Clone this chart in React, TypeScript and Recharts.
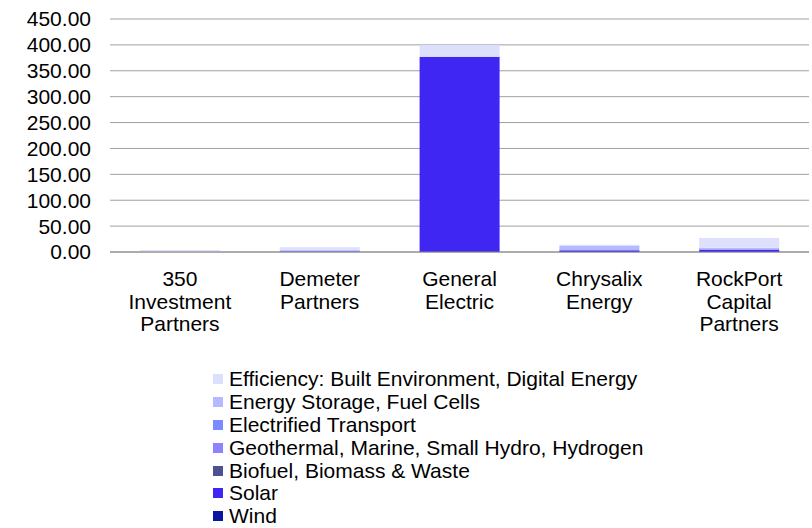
import React from "react";
import { BarChart, Bar, XAxis, YAxis, CartesianGrid, Legend } from "recharts";

const FONT = "'Liberation Sans', Arial, sans-serif";

const investors = [
  "350 Investment Partners",
  "Demeter Partners",
  "General Electric",
  "Chrysalix Energy",
  "RockPort Capital Partners",
];
const investorLines = [
  ["350", "Investment", "Partners"],
  ["Demeter", "Partners"],
  ["General", "Electric"],
  ["Chrysalix", "Energy"],
  ["RockPort", "Capital", "Partners"],
];

// stacking order: bottom -> top
const sectors = [
  "Wind",
  "Solar",
  "Biofuel, Biomass & Waste",
  "Geothermal, Marine, Small Hydro, Hydrogen",
  "Electrified Transport",
  "Energy Storage, Fuel Cells",
  "Efficiency: Built Environment, Digital Energy",
];
const sectorColors = ["#0b159e", "#3f26f3", "#4b5193", "#8c84ff", "#7b8bff", "#b3baff", "#dde0fc"];

const wind = [0, 0, 0, 0, 0];
const solar = [0, 0, 377, 3.5, 5];
const biofuel = [0, 0, 0, 0, 0];
const geothermal = [0, 2.5, 0, 0, 0];
const electrified = [0, 0, 0, 0, 0];
const storage = [1, 2, 0, 8, 3];
const efficiency = [3, 4.5, 23, 2.5, 19];

const yTicks = [0, 50, 100, 150, 200, 250, 300, 350, 400, 450];

const seriesValues = [wind, solar, biofuel, geothermal, electrified, storage, efficiency];
const keys = ["s0", "s1", "s2", "s3", "s4", "s5", "s6"];

const data = investors.map((name, i) => {
  const row: any = { name };
  keys.forEach((k, j) => {
    row[k] = seriesValues[j][i];
  });
  return row;
});

const InvestorTick = (props: any) => {
  const { x, y, payload } = props;
  const lines = investorLines[payload.index] || [payload.value];
  return (
    <text x={x} y={y} textAnchor="middle" fill="#000" fontSize={21} fontFamily={FONT}>
      {lines.map((l: string, i: number) => (
        <tspan key={i} x={x} y={y + 34 + i * 22.6}>
          {l}
        </tspan>
      ))}
    </text>
  );
};

const SectorLegend = () => (
  <div style={{ fontFamily: FONT, fontSize: 21, color: "#000" }}>
    {sectors
      .map((s, i) => ({ s, c: sectorColors[i] }))
      .reverse()
      .map(({ s, c }) => (
        <div key={s} style={{ display: "flex", alignItems: "center", height: 22.8, whiteSpace: "nowrap" }}>
          <span style={{ display: "inline-block", width: 10, height: 10, background: c, marginRight: 6 }} />
          <span>{s}</span>
        </div>
      ))}
  </div>
);

export default function App() {
  return (
    <div style={{ position: "absolute", left: 0, top: 0, width: 812, height: 528, background: "#fff" }}>
      <BarChart
        width={812}
        height={528}
        data={data}
        margin={{ top: 19, right: 3, bottom: 176, left: 0 }}
      >
        <CartesianGrid vertical={false} stroke="#a0a0a0" />
        <XAxis
          dataKey="name"
          height={100}
          interval={0}
          tickLine={false}
          tickSize={0}
          tickMargin={0}
          axisLine={{ stroke: "#888888", strokeWidth: 1 }}
          tick={<InvestorTick />}
        />
        <YAxis
          width={110}
          domain={[0, 450]}
          ticks={yTicks}
          interval={0}
          tickFormatter={(v: number) => v.toFixed(2)}
          axisLine={false}
          tickLine={false}
          tickSize={0}
          tickMargin={19}
          tick={{ fill: "#000", fontSize: 21, fontFamily: FONT }}
        />
        <Legend
          layout="vertical"
          align="center"
          verticalAlign="middle"
          wrapperStyle={{ left: 213, top: 368, width: "auto" }}
          content={<SectorLegend />}
        />
        {keys.map((k, j) => (
          <Bar
            key={k}
            dataKey={k}
            name={sectors[j]}
            stackId="a"
            fill={sectorColors[j]}
            barSize={80}
            isAnimationActive={false}
          />
        ))}
      </BarChart>
    </div>
  );
}
